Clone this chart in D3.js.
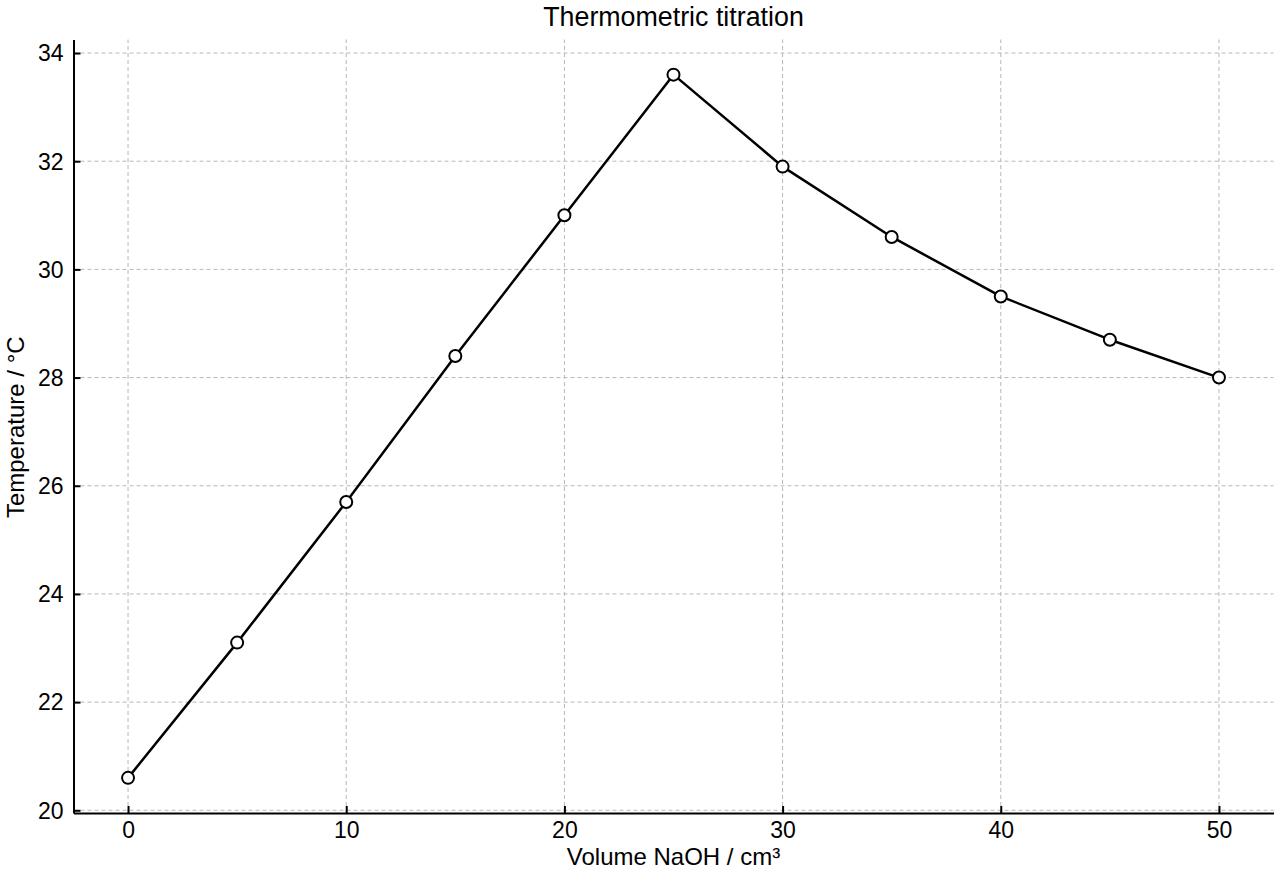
<!DOCTYPE html>
<html>
<head>
<meta charset="utf-8">
<script src="https://cdn.jsdelivr.net/npm/d3@7"></script>
<style>
  body { margin: 0; background: #fff; }
  text { font-family: "Liberation Sans", Arial, sans-serif; fill: #000; }
</style>
</head>
<body>
<div id="graphic"></div>
<script>
// titration readings
var volumes = [0, 5, 10, 15, 20, 25, 30, 35, 40, 45, 50];
var temps = [20.6, 23.1, 25.7, 28.4, 31.0, 33.6, 31.9, 30.6, 29.5, 28.7, 28.0];
var xTicks = [0, 10, 20, 30, 40, 50];
var yTicks = [20, 22, 24, 26, 28, 30, 32, 34];

var svgWidth = 1280, svgHeight = 880;
var margin = {left: 73.5, right: 6.5, top: 39.5, bottom: 67};

var svg = d3.select("#graphic")
    .append("svg")
    .attr("width", svgWidth)
    .attr("height", svgHeight);

var x = d3.scaleLinear()
    .domain([-2.5, 52.5])
    .range([margin.left, svgWidth - margin.right]);

var y = d3.scaleLinear()
    .domain([19.95, 34.25])
    .range([svgHeight - margin.bottom, margin.top]);

var chart = svg.append("g");

// dashed grid
chart.append("g").selectAll("line")
    .data(xTicks)
    .enter()
    .append("line")
    .attr("x1", d => x(d)).attr("x2", d => x(d))
    .attr("y1", y.range()[0]).attr("y2", y.range()[1])
    .attr("stroke", "#b8b8b8")
    .attr("stroke-width", 1)
    .attr("stroke-dasharray", "4,3");

chart.append("g").selectAll("line")
    .data(yTicks)
    .enter()
    .append("line")
    .attr("y1", d => y(d)).attr("y2", d => y(d))
    .attr("x1", x.range()[0]).attr("x2", x.range()[1])
    .attr("stroke", "#b8b8b8")
    .attr("stroke-width", 1)
    .attr("stroke-dasharray", "4,3");

// axes, ticks pointing inward
var xAxis = d3.axisBottom(x).tickValues(xTicks).tickSizeInner(-7).tickSizeOuter(0);
var yAxis = d3.axisLeft(y).tickValues(yTicks).tickSizeInner(-7).tickSizeOuter(0);

var gx = chart.append("g")
    .attr("transform", "translate(0," + y.range()[0] + ")")
    .call(xAxis);
var gy = chart.append("g")
    .attr("transform", "translate(" + x.range()[0] + ",0)")
    .call(yAxis);

[gx, gy].forEach(function(g) {
    g.select(".domain").attr("stroke", "#000").attr("stroke-width", 2);
    g.selectAll(".tick line").attr("stroke", "#000").attr("stroke-width", 2);
    g.selectAll(".tick text")
        .style("font-family", "'Liberation Sans', Arial, sans-serif")
        .style("font-size", "23px")
        .attr("fill", "#000");
});
gx.selectAll(".tick text").attr("dy", null).attr("y", 24.5);
gy.selectAll(".tick text").attr("x", -10).attr("dy", "0.34em");

// the line
var line = d3.line()
    .x((d, i) => x(volumes[i]))
    .y(d => y(d));

chart.append("path")
    .datum(temps)
    .attr("d", line)
    .attr("fill", "none")
    .attr("stroke", "#000")
    .attr("stroke-width", 2.5)
    .attr("stroke-linejoin", "round");

chart.selectAll("circle")
    .data(temps)
    .enter()
    .append("circle")
    .attr("cx", (d, i) => x(volumes[i]))
    .attr("cy", d => y(d))
    .attr("r", 6)
    .attr("fill", "#fff")
    .attr("stroke", "#000")
    .attr("stroke-width", 2);

// labels
svg.append("text")
    .attr("x", (x.range()[0] + x.range()[1]) / 2)
    .attr("y", 26)
    .attr("text-anchor", "middle")
    .style("font-size", "26.8px")
    .text("Thermometric titration");

svg.append("text")
    .attr("x", (x.range()[0] + x.range()[1]) / 2)
    .attr("y", 864.5)
    .attr("text-anchor", "middle")
    .style("font-size", "24px")
    .text("Volume NaOH / cm³");

svg.append("text")
    .attr("transform", "translate(23.5," + ((y.range()[0] + y.range()[1]) / 2 + 1) + ") rotate(-90)")
    .attr("text-anchor", "middle")
    .style("font-size", "24px")
    .text("Temperature / °C");
</script>
</body>
</html>
